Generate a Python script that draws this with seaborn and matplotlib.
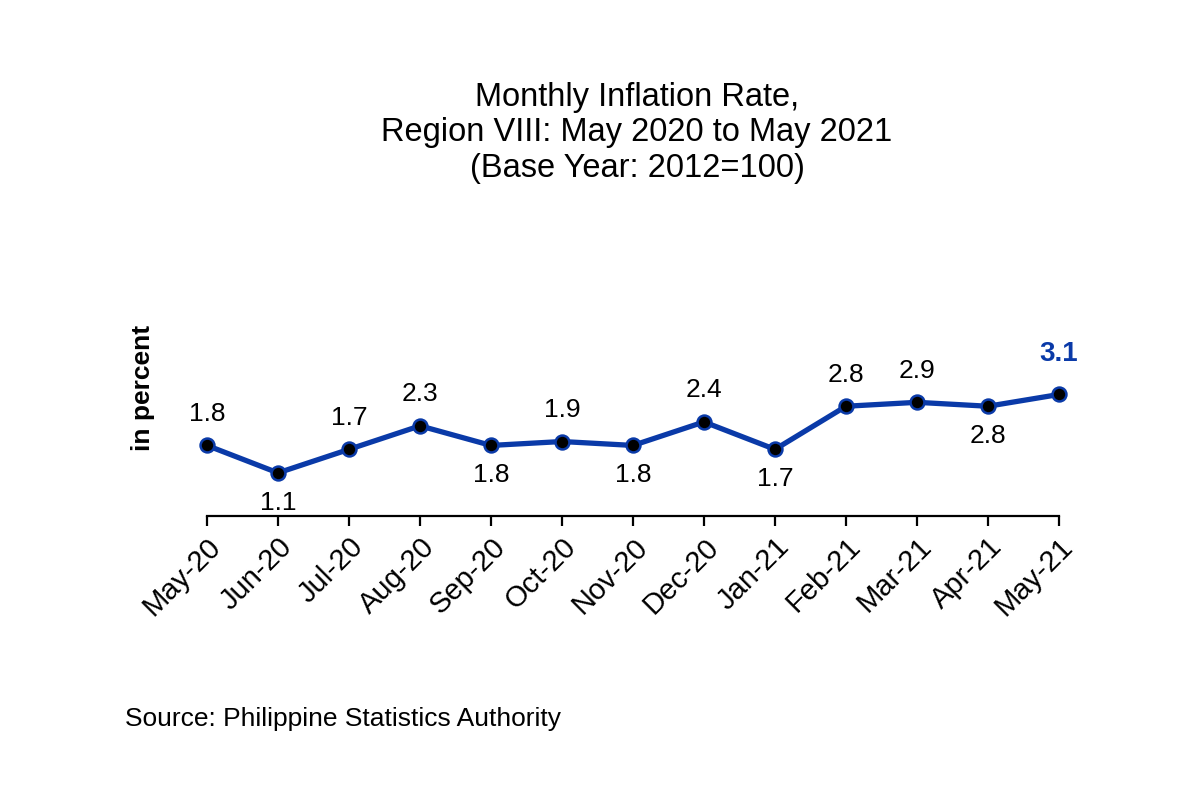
import pandas as pd
import numpy as np
import matplotlib.pyplot as plt
import seaborn as sns

months = ['May-20', 'Jun-20', 'Jul-20', 'Aug-20', 'Sep-20', 'Oct-20', 'Nov-20',
          'Dec-20', 'Jan-21', 'Feb-21', 'Mar-21', 'Apr-21', 'May-21']
inflation = [1.8, 1.1, 1.7, 2.3, 1.8, 1.9, 1.8, 2.4, 1.7, 2.8, 2.9, 2.8, 3.1]
label_side = ['up', 'down', 'up', 'up', 'down', 'up', 'down', 'up', 'down', 'up', 'up', 'down', 'up']

sns.set_style('white')
plt.rcParams['font.family'] = ['Liberation Sans', 'DejaVu Sans']
plt.rcParams['text.color'] = 'black'
plt.rcParams['xtick.color'] = 'black'
plt.rcParams['xtick.labelcolor'] = 'black'

df = pd.DataFrame({'pos': np.arange(len(months)), 'month': months, 'rate': inflation})

blue = '#0a3aa8'
fig = plt.figure(figsize=(12, 8), dpi=100)
ax = fig.add_axes([0.1725, 0.355, 0.71, 0.245])

sns.lineplot(data=df, x='pos', y='rate', ax=ax, color=blue, linewidth=3.8,
             marker='o', markersize=10, markerfacecolor='black',
             markeredgecolor=blue, markeredgewidth=1.8, clip_on=False)

for i, (v, side) in enumerate(zip(inflation, label_side)):
    last = i == len(inflation) - 1
    if side == 'up':
        dy = 20 if last else 14
        va = 'bottom'
    else:
        dy = -13
        va = 'top'
    ax.annotate(f'{v:.1f}', (i, v), xytext=(0, dy), textcoords='offset points',
                ha='center', va=va, fontsize=20 if last else 19,
                color=blue if last else 'black',
                fontweight='bold' if last else 'normal')

ax.set_xlim(0, len(months) - 1)
ax.set_ylim(0, 5)
ax.set_xticks(df['pos'])
ax.set_xticklabels(months, rotation=45, ha='right', rotation_mode='anchor', fontsize=21)
ax.set_yticks([])
ax.set_xlabel('')
ax.set_ylabel('')
for s in ['top', 'right', 'left']:
    ax.spines[s].set_visible(False)
ax.spines['bottom'].set_linewidth(1.6)
ax.spines['bottom'].set_color('black')
ax.tick_params(axis='x', direction='out', length=7, width=1.6, color='black', bottom=True, pad=5)

fig.text(143 / 1200, 1 - 388 / 800, 'in percent', rotation=90, ha='center', va='center',
         fontsize=19, fontweight='bold')
fig.text(637 / 1200, 1 - 133 / 800,
         'Monthly Inflation Rate,\nRegion VIII: May 2020 to May 2021\n(Base Year: 2012=100)',
         ha='center', va='center', fontsize=23.5, linespacing=1.2)
fig.text(125 / 1200, 1 - 719 / 800, 'Source: Philippine Statistics Authority',
         ha='left', va='center', fontsize=19)

fig.savefig('out.png', dpi=100)
